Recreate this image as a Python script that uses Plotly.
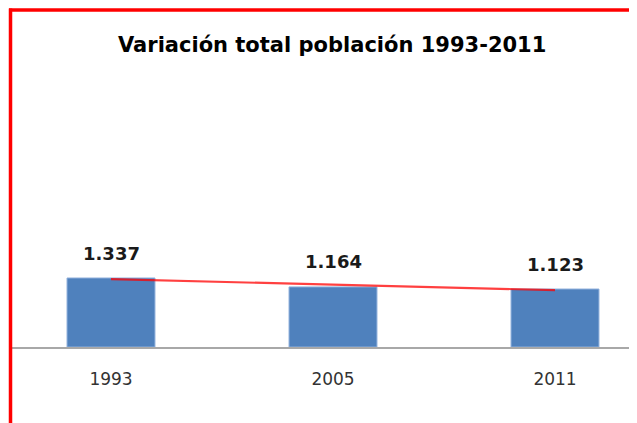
import numpy as np
import plotly.graph_objects as go

years = ["1993", "2005", "2011"]
population = [1337, 1164, 1123]
labels = ["1.337", "1.164", "1.123"]
title_text = "Variación total población 1993-2011"

# page has an 8px body margin, so figure is drawn offset by 8px
OFF = 8
W, H = 637 - OFF, 423 - OFF
ml, mr, mt, mb = 4, 0, 92, 76
plot_h = H - mt - mb
plot_w = W - ml - mr
px_per_unit = 69 / 1337
ymax = plot_h / px_per_unit
center0 = 103  # fig px of first category centre
step = 222

# linear trend line (Excel style) through categories
xi = np.arange(len(population))
coef = np.polyfit(xi, population, 1)
trend = np.polyval(coef, xi)

fig = go.Figure()
fig.add_trace(go.Bar(
    x=list(xi), y=population, width=0.396,
    marker=dict(color="#4f81bd", line=dict(color="#8eaedb", width=1)),
    hoverinfo="skip", showlegend=False,
))
fig.add_trace(go.Scatter(
    x=list(xi), y=trend, mode="lines",
    line=dict(color="rgba(255,0,0,0.75)", width=2.2),
    hoverinfo="skip", showlegend=False,
))
for i, (v, t) in enumerate(zip(population, labels)):
    fig.add_annotation(x=i, y=v, text=f"<b>{t}</b>", showarrow=False,
                       yshift=25, font=dict(family="DejaVu Sans", size=18, color="#1a1a1a"))

def px_to_paper_x(px):
    return (px - ml) / plot_w

def px_to_paper_y(py):
    return (H - mb - py) / plot_h

# red frame
fig.add_shape(type="line", xref="paper", yref="paper",
              x0=px_to_paper_x(1), x1=px_to_paper_x(660),
              y0=px_to_paper_y(2), y1=px_to_paper_y(2),
              line=dict(color="#ff0000", width=3.5))
fig.add_shape(type="line", xref="paper", yref="paper",
              x0=px_to_paper_x(2.5), x1=px_to_paper_x(2.5),
              y0=px_to_paper_y(0.5), y1=px_to_paper_y(440),
              line=dict(color="#ff0000", width=3.5))

fig.add_annotation(xref="paper", yref="paper",
                   x=px_to_paper_x(324), y=px_to_paper_y(37),
                   xanchor="center", yanchor="middle",
                   text=f"<b>{title_text}</b>", showarrow=False,
                   font=dict(family="DejaVu Sans", size=21, color="#000000"))

fig.update_layout(
    width=W, height=H,
    margin=dict(l=ml, r=mr, t=mt, b=mb),
    paper_bgcolor="white", plot_bgcolor="white",
    xaxis=dict(range=[(ml - center0) / step, (W - center0) / step],
               tickmode="array", tickvals=list(xi), ticktext=years,
               showline=True, linecolor="#a8a8a8", linewidth=2,
               showgrid=False, zeroline=False, ticks="", ticklabelstandoff=16,
               tickfont=dict(family="DejaVu Sans", size=17, color="#333333"),
               fixedrange=True),
    yaxis=dict(range=[0, ymax], visible=False, fixedrange=True),
)

fig.write_html("out.html")
